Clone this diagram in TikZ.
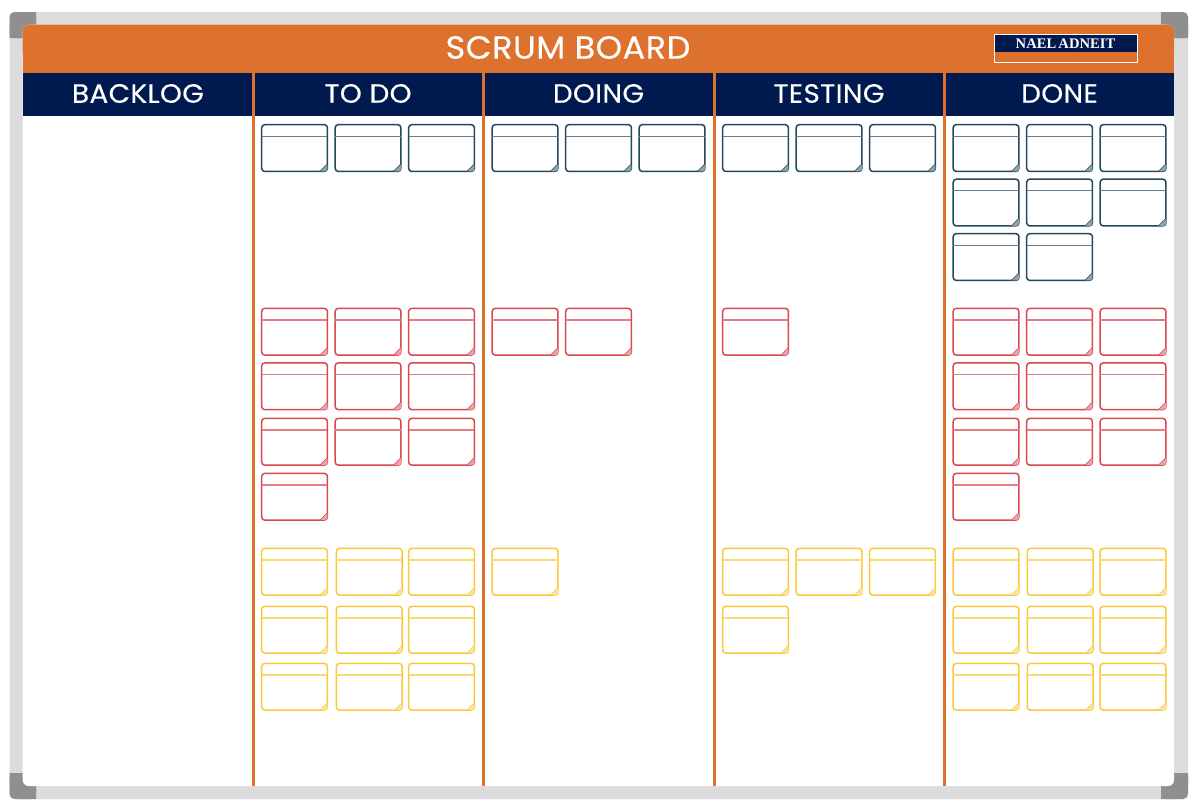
\documentclass[tikz,border=0pt]{standalone}
\usepackage{fontspec}
\setmainfont{Poppins}[LetterSpace=1.5,FakeBold=0.25,FakeStretch=1.05]
\newfontfamily\logofont{Liberation Serif}[WordSpace=0.6]
\definecolor{navyband}{HTML}{001A50}
\definecolor{orangeband}{HTML}{DD722E}
\definecolor{frameg}{HTML}{DCDCDC}
\definecolor{cornerg}{HTML}{8F8F8F}
\definecolor{cardnavy}{HTML}{23475B}
\definecolor{cardred}{HTML}{D9474F}
\definecolor{cardyellow}{HTML}{F9C93A}
\tikzset{
  coltitle/.style={text=white,font=\fontsize{26.5}{26.5}\selectfont,anchor=center,inner sep=0pt},
  divider/.style={draw=orangeband,line width=3pt},
}
% x, y (top-left), colour
\newcommand{\cardat}[3]{%
  \draw[#3,line width=1.5pt,rounded corners=3pt] (#1+.4,#2+.4) rectangle ++(65.7,46.7);
  \draw[#3!70,line width=1.2pt] (#1+.4,#2+12) -- ++(65.7,0);
  \fill[#3!50] (#1+66.1-7.5,#2+47.1) -- (#1+66.1,#2+47.1-7.5) -- (#1+66.1,#2+47.1-2) -- (#1+66.1-2,#2+47.1) -- cycle;
  \draw[#3,line width=.5pt] (#1+66.1-7.5,#2+47.1) -- (#1+66.1,#2+47.1-7.5);
}
\begin{document}
\begin{tikzpicture}[x=1pt,y=-1pt]
\useasboundingbox (0,0) rectangle (1200,811);
\fill[white] (0,0) rectangle (1200,811);
% frame
\fill[frameg,rounded corners=5pt] (9.5,12) rectangle (1188,799);
\fill[cornerg,rounded corners=5pt] (9.5,12) rectangle (36,38);
\fill[cornerg] (20,12) rectangle (36,38) (9.5,25) rectangle (36,38);
\fill[cornerg,rounded corners=5pt] (1161,12) rectangle (1188,38);
\fill[cornerg] (1161,12) rectangle (1175,38) (1161,25) rectangle (1188,38);
\fill[cornerg,rounded corners=5pt] (9.5,773) rectangle (36,799);
\fill[cornerg] (20,773) rectangle (36,799) (9.5,773) rectangle (36,785);
\fill[cornerg,rounded corners=5pt] (1161,773) rectangle (1188,799);
\fill[cornerg] (1161,773) rectangle (1175,799) (1161,773) rectangle (1188,785);
% board
\fill[white,rounded corners=6pt] (22.7,24.7) rectangle (1174,786);
\fill[orangeband,rounded corners=6pt] (22.7,24.7) rectangle (1174,60);
\fill[orangeband] (22.7,40) rectangle (1174,73);
\fill[navyband] (22.7,73) rectangle (1174,116);
% logo
\draw[white,line width=.8pt,fill=orangeband] (994,34.3) rectangle (1137,62.3);
\fill[navyband] (994.5,34.8) rectangle (1136.5,52.3);
\node[font=\logofont\bfseries\fontsize{14.6}{14.6}\selectfont,text=white,inner sep=0pt] (logo) at (1065.5,43.8) {NAEL ADNEIT};
% titles
\node[coltitle,font=\fontsize{32}{32}\selectfont] (title) at (568,47.5) {SCRUM BOARD};
\node[coltitle] (backlog) at (138,93.5) {BACKLOG};
\node[coltitle] (todo) at (368,93.5) {TO DO};
\node[coltitle] (doing) at (598.5,93.5) {DOING};
\node[coltitle] (testing) at (829,93.5) {TESTING};
\node[coltitle] (done) at (1059.5,93.5) {DONE};
% dividers
\foreach \x in {253,483.5,714,944.5} \draw[divider] (\x,73) -- (\x,786);
% navy cards
\foreach \x in {261.3,334.8,408.3,491.8,565.3,638.8,722.3,795.8,869.3,952.8,1026.3,1099.8}
  {\cardat{\x}{124.3}{cardnavy}}
\foreach \x in {952.8,1026.3,1099.8} {\cardat{\x}{178.8}{cardnavy}}
\foreach \x in {952.8,1026.3} {\cardat{\x}{233.3}{cardnavy}}
% red cards
\foreach \x in {261.3,334.8,408.3,491.8,565.3,722.3,952.8,1026.3,1099.8} {\cardat{\x}{308}{cardred}}
\foreach \x in {261.3,334.8,408.3,952.8,1026.3,1099.8} {\cardat{\x}{362.5}{cardred}}
\foreach \x in {261.3,334.8,408.3,952.8,1026.3,1099.8} {\cardat{\x}{418}{cardred}}
\foreach \x in {261.3,952.8} {\cardat{\x}{473}{cardred}}
% yellow cards
\foreach \x in {261.3,336,408.3,491.8,722.3,795.8,869.3,952.8,1027,1099.8} {\cardat{\x}{548}{cardyellow}}
\foreach \x in {261.3,336,408.3,722.3,952.8,1027,1099.8} {\cardat{\x}{606}{cardyellow}}
\foreach \x in {261.3,336,408.3,952.8,1027,1099.8} {\cardat{\x}{663}{cardyellow}}
\end{tikzpicture}
\end{document}
